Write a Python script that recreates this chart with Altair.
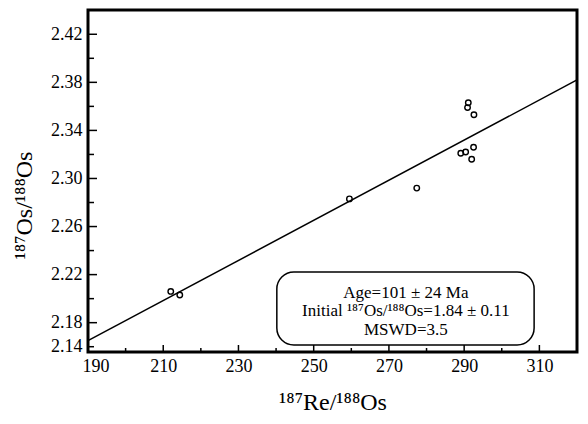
import altair as alt
import pandas as pd

# ---- data ----
re_os = [291.1, 290.9, 292.6, 289.1, 290.4, 292.5, 292.0, 259.5, 277.4, 212.0, 214.4]
os_os = [2.363, 2.359, 2.353, 2.321, 2.322, 2.326, 2.316, 2.283, 2.292, 2.206, 2.203]

fit_x = [190, 320]
fit_y = [2.165, 2.382]

x_domain = [190, 320]
y_domain = [2.1556, 2.4402]

x_major = [190, 210, 230, 250, 270, 290, 310]
x_minor = [200, 220, 240, 260, 280, 300]
y_major = [2.1556, 2.18, 2.22, 2.26, 2.30, 2.34, 2.38, 2.42]
y_major_labels = ["2.14", "2.18", "2.22", "2.26", "2.30", "2.34", "2.38", "2.42"]
y_minor = [2.16, 2.20, 2.24, 2.28, 2.32, 2.36, 2.40]

box_x = [240.2, 308.6]
box_y = [2.1614, 2.2222]
note_lines = ["Age=101 \u00b1 24 Ma",
              "Initial \u00b9\u2078\u2077Os/\u00b9\u2078\u2078Os=1.84 \u00b1 0.11",
              "MSWD=3.5"]
note_x = [274.5, 274.5, 274.5]
note_y = [2.2050, 2.1895, 2.1740]

FONT = "Liberation Serif"

pts = pd.DataFrame({"x": re_os, "y": os_os})
fit = pd.DataFrame({"x": fit_x, "y": fit_y})
box = pd.DataFrame({"x": [box_x[0]], "x2": [box_x[1]], "y": [box_y[0]], "y2": [box_y[1]]})
notes = pd.DataFrame({"x": note_x, "y": note_y, "t": note_lines})
xmaj = pd.DataFrame({"x": x_major})
xmin = pd.DataFrame({"x": x_minor})
ymaj = pd.DataFrame({"y": y_major})
ymin = pd.DataFrame({"y": y_minor})

xs = alt.Scale(domain=x_domain, nice=False, zero=False)
ys = alt.Scale(domain=y_domain, nice=False, zero=False)

label_map = "{" + ",".join(f"'{v:.2f}':'{l}'" for v, l in zip(y_major, y_major_labels)) + "}"

x_axis = alt.Axis(values=x_major, ticks=False, domain=False, grid=False,
                  labelFont=FONT, labelFontSize=18, labelColor="black",
                  labelPadding=5, labelFlush=True, labelFlushOffset=6,
                  title="\u00b9\u2078\u2077Re/\u00b9\u2078\u2078Os", titleFont=FONT,
                  titleFontSize=24, titleFontWeight="normal", titleColor="black",
                  titlePadding=15)
y_axis = alt.Axis(values=y_major, ticks=False, domain=False, grid=False,
                  labelFont=FONT, labelFontSize=18, labelColor="black",
                  labelPadding=6, labelFlush=True, labelFlushOffset=3,
                  labelExpr=f"{label_map}[format(datum.value, '.2f')]",
                  title="\u00b9\u2078\u2077Os/\u00b9\u2078\u2078Os", titleFont=FONT,
                  titleFontSize=24, titleFontWeight="normal", titleColor="black",
                  titleX=-52, titleY=195)

X = alt.X("x:Q", scale=xs, axis=x_axis)
Y = alt.Y("y:Q", scale=ys, axis=y_axis)

base_pts = alt.Chart(pts).mark_point(shape="circle", filled=False, color="black",
                                     size=30, strokeWidth=1.4, opacity=1).encode(x=X, y=Y)

line = alt.Chart(fit).mark_line(color="black", strokeWidth=1.5).encode(x=X, y=Y)

rect = alt.Chart(box).mark_rect(fill="white", stroke="black", strokeWidth=1.5,
                                cornerRadius=17).encode(x=X, x2="x2", y=Y, y2="y2")

text = alt.Chart(notes).mark_text(font=FONT, fontSize=17, color="black",
                                  align="center", baseline="middle").encode(
    x=X, y=Y, text="t:N")

H = 342
xt_major = alt.Chart(xmaj).mark_rule(color="black", strokeWidth=1.5).encode(
    x=X, y=alt.value(H), y2=alt.value(H - 7))
xt_minor = alt.Chart(xmin).mark_rule(color="black", strokeWidth=1.5).encode(
    x=X, y=alt.value(H), y2=alt.value(H - 4))
yt_major = alt.Chart(ymaj).mark_rule(color="black", strokeWidth=1.5).encode(
    y=Y, x=alt.value(0), x2=alt.value(9))
yt_minor = alt.Chart(ymin).mark_rule(color="black", strokeWidth=1.5).encode(
    y=Y, x=alt.value(0), x2=alt.value(6))

chart = alt.layer(base_pts, line, rect, text, xt_major, xt_minor, yt_major, yt_minor).properties(
    width=489, height=H,
    autosize=alt.AutoSizeParams(type="none"),
    padding={"left": 80, "top": 2, "right": 3, "bottom": 64},
    background="white",
).configure_view(stroke="black", strokeWidth=3).configure_axis(
    labelFont=FONT, titleFont=FONT)

chart.save("out.html", embed_options={"renderer": "svg", "actions": False})
